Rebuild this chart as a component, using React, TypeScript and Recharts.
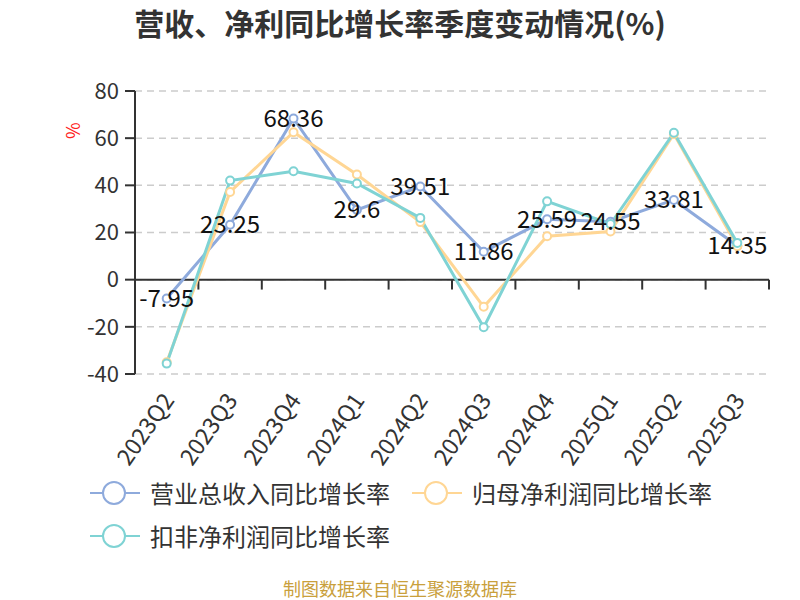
import React from 'react'
import { LineChart, Line, XAxis, YAxis, CartesianGrid, ReferenceLine, LabelList } from 'recharts'

const quarters = ['2023Q2', '2023Q3', '2023Q4', '2024Q1', '2024Q2', '2024Q3', '2024Q4', '2025Q1', '2025Q2', '2025Q3']
const revenueGrowth = [-7.95, 23.25, 68.36, 29.6, 39.51, 11.86, 25.59, 24.55, 33.81, 14.35]
const netProfitGrowth = [-35, 37.2, 62.5, 44.6, 24.4, -11.5, 18.4, 20.4, 61.8, 14.2]
const deductedProfitGrowth = [-35.6, 42, 46, 40.8, 26.2, -20.2, 33.2, 23.6, 62.3, 15.6]
const yTicks = [-40, -20, 0, 20, 40, 60, 80]

const seriesNames = ['营业总收入同比增长率', '归母净利润同比增长率', '扣非净利润同比增长率']
const seriesColors = ['#8eaadc', '#ffd694', '#7fd3d4']

const data = quarters.map((q, i) => ({
    quarter: q,
    revenue: revenueGrowth[i],
    netProfit: netProfitGrowth[i],
    deducted: deductedProfitGrowth[i],
}))

const FONT = '"Noto Sans CJK SC", "Noto Sans", sans-serif'

// rotated category labels under the plot
const QuarterTick = (props: any) => {
    const { x, y, payload } = props
    return (
        <g transform={`translate(${x + 2},${y + 14})`}>
            <text transform="rotate(-55)" textAnchor="end" dy="0.35em" fill="#333" fontSize={23} fontFamily={FONT}>
                {payload.value}
            </text>
        </g>
    )
}

const ChartLegend = () => {
    const rows = [[0, 1], [2]]
    return (
        <div style={{ position: 'absolute', top: 471, left: 0, width: 800, fontFamily: FONT }}>
            {rows.map((row, r) => (
                <div key={r} style={{ display: 'flex', height: 43, alignItems: 'center', paddingLeft: 90 }}>
                    {row.map(i => (
                        <div key={i} style={{ display: 'flex', alignItems: 'center', width: 322 }}>
                            <svg width={50} height={26}>
                                <line x1={0} y1={13} x2={50} y2={13} stroke={seriesColors[i]} strokeWidth={2} />
                                <circle cx={24} cy={13} r={11} fill="#fff" stroke={seriesColors[i]} strokeWidth={2} />
                            </svg>
                            <span style={{ marginLeft: 10, fontSize: 24, color: '#333' }}>{seriesNames[i]}</span>
                        </div>
                    ))}
                </div>
            ))}
        </div>
    )
}

export default function App() {
    return (
        <div style={{ position: 'absolute', left: 0, top: 0, width: 800, height: 600, background: '#fff', fontFamily: FONT }}>
            <div style={{ position: 'absolute', top: 2, width: 800, textAlign: 'center', fontSize: 30, lineHeight: '40px', fontWeight: 'bold', color: '#333' }}>
                营收、净利同比增长率季度变动情况(%)
            </div>
            <LineChart
                width={800}
                height={600}
                data={data}
                margin={{ top: 91, right: 31, bottom: 126, left: 75 }}
            >
                <CartesianGrid vertical={false} stroke="#cccccc" strokeWidth={1.5} strokeDasharray="7 5" />
                <XAxis
                    dataKey="quarter"
                    scale="band"
                    axisLine={false}
                    tickLine={false}
                    interval={0}
                    height={100}
                    tick={<QuarterTick />}
                />
                <YAxis
                    width={60}
                    domain={[-40, 80]}
                    ticks={yTicks}
                    interval={0}
                    tickSize={10}
                    tickMargin={6}
                    axisLine={{ stroke: '#333', strokeWidth: 2 }}
                    tickLine={{ stroke: '#333', strokeWidth: 2 }}
                    tick={{ fontSize: 22, fill: '#333', fontFamily: FONT }}
                    label={{ value: '%', angle: -90, position: 'insideTopLeft', offset: 0, dx: -8, dy: 48, fill: '#ff2020', fontSize: 18 }}
                />
                <ReferenceLine y={0} stroke="#333" strokeWidth={2} />
                {quarters.map(q => (
                    <ReferenceLine
                        key={q}
                        segment={[{ x: q, y: 0 }, { x: q, y: -4.2 }]}
                        position="end"
                        stroke="#333"
                        strokeWidth={2}
                    />
                ))}
                <Line
                    type="linear"
                    dataKey="revenue"
                    stroke={seriesColors[0]}
                    strokeWidth={3}
                    dot={{ r: 4, fill: '#fff', stroke: seriesColors[0], strokeWidth: 2 }}
                    isAnimationActive={false}
                >
                    <LabelList dataKey="revenue" position="center" fill="#111" fontSize={24} fontFamily={FONT} />
                </Line>
                <Line
                    type="linear"
                    dataKey="netProfit"
                    stroke={seriesColors[1]}
                    strokeWidth={3}
                    dot={{ r: 4, fill: '#fff', stroke: seriesColors[1], strokeWidth: 2 }}
                    isAnimationActive={false}
                />
                <Line
                    type="linear"
                    dataKey="deducted"
                    stroke={seriesColors[2]}
                    strokeWidth={3}
                    dot={{ r: 4, fill: '#fff', stroke: seriesColors[2], strokeWidth: 2 }}
                    isAnimationActive={false}
                />
            </LineChart>
            <ChartLegend />
            <div style={{ position: 'absolute', top: 576, width: 800, textAlign: 'center', fontSize: 18, lineHeight: '24px', color: '#c9a03c' }}>
                制图数据来自恒生聚源数据库
            </div>
        </div>
    )
}
